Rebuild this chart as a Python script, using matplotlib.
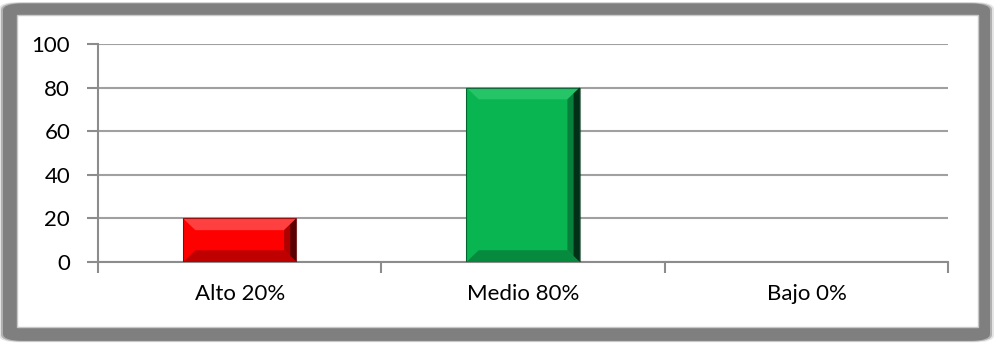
import matplotlib
matplotlib.use('Agg')
import matplotlib.pyplot as plt
from matplotlib.patches import FancyBboxPatch, Rectangle, Polygon

categories = ['Alto 20%', 'Medio 80%', 'Bajo 0%']
values = [20, 80, 0]
bar_colors = ['#ff0000', '#08b550', '#808080']
dark_colors = ['#5a0000', '#013018', '#404040']
mid_colors = ['#b00000', '#06803a', '#606060']
light_colors = ['#ff4040', '#25c466', '#a0a0a0']
yticks = [0, 20, 40, 60, 80, 100]

plt.rcParams['font.family'] = ['Lato', 'DejaVu Sans']

fig = plt.figure(figsize=(9.97, 3.45), dpi=100)

# grey frame with soft shadow, white plot area inside
for pad, alpha in [(0.004, 0.2), (0.002, 0.5), (0.0, 1.0)]:
    fig.patches.append(FancyBboxPatch((0.003 - pad, 0.012 - pad), 0.99 + 2 * pad, 0.978 + 2 * pad,
                                      boxstyle='round,pad=0,rounding_size=0.02',
                                      transform=fig.transFigure, facecolor='#7f7f7f',
                                      edgecolor='none', alpha=alpha, zorder=0))
fig.patches.append(Rectangle((0.017, 0.052), 0.964, 0.905, transform=fig.transFigure,
                             facecolor='white', edgecolor='#c8c8c8', lw=1, zorder=1))

ax = fig.add_axes([0.0983, 0.2406, 0.8527, 0.6319])
ax.set_facecolor('none')
ax.set_zorder(2)

x = list(range(len(categories)))
width = 0.4
bars = ax.bar(x, values, width=width, color=bar_colors, zorder=3)

# bevel edges, size in pixels converted to data units
bev_px = 14
fig.canvas.draw()
p0 = ax.transData.transform((0, 0))
p1 = ax.transData.transform((1, 1))
bx = bev_px / (p1[0] - p0[0])
by = bev_px / (p1[1] - p0[1])
for b, fc, dk, md, lt in zip(bars, bar_colors, dark_colors, mid_colors, light_colors):
    h = b.get_height()
    if h <= 0:
        continue
    x0, x1 = b.get_x(), b.get_x() + b.get_width()
    ax.add_patch(Polygon([(x0, h), (x1, h), (x1 - bx, h - by), (x0 + bx, h - by)],
                         closed=True, facecolor=lt, edgecolor='none', zorder=4))
    ax.add_patch(Polygon([(x1, h), (x1, 0), (x1 - bx, by), (x1 - bx, h - by)],
                         closed=True, facecolor=md, edgecolor='none', zorder=4))
    ax.add_patch(Polygon([(x1, h), (x1, 0), (x1 - bx / 2, by / 2), (x1 - bx / 2, h - by / 2)],
                         closed=True, facecolor=dk, edgecolor='none', zorder=4))
    ax.add_patch(Polygon([(x0, 0), (x1, 0), (x1 - bx, by), (x0 + bx, by)],
                         closed=True, facecolor=md, edgecolor='none', alpha=0.8, zorder=4))
    ax.add_patch(Rectangle((x0, 0), b.get_width(), h, facecolor='none',
                           edgecolor=dk, lw=0.8, alpha=0.6, zorder=5))

ax.set_xlim(-0.5, len(categories) - 0.5)
ax.set_ylim(0, 100)
ax.set_yticks(yticks)
ax.set_xticks(x)
ax.set_xticklabels(categories, fontsize=16)
ax.set_xticks([i - 0.5 for i in range(len(categories) + 1)], minor=True)
ax.tick_params(axis='x', which='major', length=0, pad=16)
ax.tick_params(axis='x', which='minor', length=8, color='#8c8c8c', width=1.5)
ax.tick_params(axis='y', length=8, color='#8c8c8c', width=1.5, labelsize=16, pad=12)
ax.yaxis.grid(True, color='#a0a0a0', linewidth=1.5, zorder=1)
ax.set_axisbelow(True)
for s in ['top', 'right']:
    ax.spines[s].set_visible(False)
ax.spines['left'].set_color('#8c8c8c')
ax.spines['left'].set_linewidth(1.5)
ax.spines['bottom'].set_color('#8c8c8c')
ax.spines['bottom'].set_linewidth(1.5)

fig.savefig('out.png', dpi=100)
